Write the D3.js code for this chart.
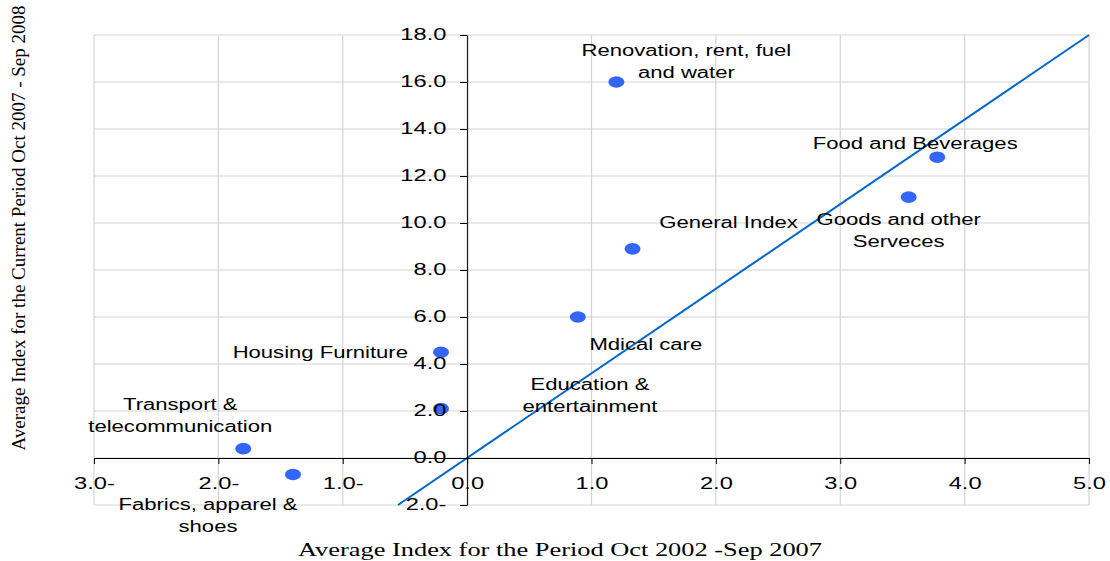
<!DOCTYPE html>
<html><head><meta charset="utf-8">
<script src="https://cdn.jsdelivr.net/npm/d3@7"></script>
<style>body{margin:0;background:#fff;} svg{display:block;}</style>
</head><body>
<svg id="c" width="1110" height="561"></svg>
<script>
// ---- data ----
const categories = ["Renovation, rent, fuel|and water","Food and Beverages","Goods and other|Serveces","General Index","Mdical care","Housing Furniture","Education &|entertainment","Transport &|telecommunication","Fabrics, apparel &|shoes"];
const xValues = [1.2, 3.78, 3.55, 1.33, 0.89, -0.21, -0.21, -1.80, -1.40];
const yValues = [16.0, 12.8, 11.1, 8.9, 6.0, 4.5, 2.1, 0.4, -0.7];
const lineX = [-0.556, 5];
const lineY = [-2, 18];
const xTicks = [-3,-2,-1,0,1,2,3,4,5];
const yTicks = [-2,0,2,4,6,8,10,12,14,16,18];
const xTitle = "Average Index for the Period Oct 2002 -Sep 2007";
const yTitle = "Average Index for the Current Period Oct 2007 - Sep 2008";

// ---- layout (label offsets in px, not data) ----
const labelLayout = [
  {dx:70, dy:-32, a:"middle"},
  {dx:-22, dy:-14, a:"middle"},
  {dx:-10, dy:22, a:"middle"},
  {dx:96, dy:-26, a:"middle"},
  {dx:68, dy:27, a:"middle"},
  {dx:-33, dy:0, a:"end"},
  {dx:149, dy:-24, a:"middle"},
  {dx:-63, dy:-44, a:"middle"},
  {dx:-85, dy:30, a:"middle"}
];

const svg = d3.select("#c");
const x = d3.scaleLinear().domain([-3,5]).range([94,1089]);
const y = d3.scaleLinear().domain([-2,18]).range([505,35]);
const fmt = d => (d < 0 ? Math.abs(d).toFixed(1) + "-" : d.toFixed(1));
const tickFont = "'Liberation Sans', Arial, sans-serif";

// gridlines
const grid = svg.append("g");
grid.selectAll("line.v").data(xTicks).join("line")
  .attr("x1", d=>x(d)).attr("x2", d=>x(d)).attr("y1", y(18)).attr("y2", y(-2))
  .attr("stroke","#d3d3d3").attr("stroke-width",1.2);
grid.selectAll("line.h").data(yTicks).join("line")
  .attr("y1", d=>y(d)).attr("y2", d=>y(d)).attr("x1", x(-3)).attr("x2", x(5))
  .attr("stroke","#d3d3d3").attr("stroke-width",1.2);

// diagonal line
const lineData = lineX.map((d,i)=>[d, lineY[i]]);
svg.append("path").datum(lineData)
  .attr("d", d3.line().x(d=>x(d[0])).y(d=>y(d[1])))
  .attr("stroke","#0066cc").attr("stroke-width",2).attr("fill","none");

// points
const pts = categories.map((c,i)=>({name:c, x:xValues[i], y:yValues[i], l:labelLayout[i]}));
svg.append("g").selectAll("ellipse").data(pts).join("ellipse")
  .attr("cx", d=>x(d.x)).attr("cy", d=>y(d.y)).attr("rx",8).attr("ry",5.8)
  .attr("fill","#3366ff");

// axes
const yAxis = svg.append("g").attr("transform", `translate(${x(0)},0)`)
  .call(d3.axisLeft(y).tickValues(yTicks).tickSize(7).tickSizeOuter(0).tickFormat(fmt));
yAxis.select(".domain").attr("stroke","#000");
yAxis.selectAll(".tick line").attr("stroke","#000");
yAxis.selectAll(".tick text").attr("x",-14).attr("dy","0.3em").attr("transform","scale(1.48,1)")
  .attr("font-family",tickFont).attr("font-size",16).attr("fill","#000");

const xAxis = svg.append("g").attr("transform", `translate(0,${y(0)})`)
  .call(d3.axisBottom(x).tickValues(xTicks).tickSize(6).tickSizeOuter(0).tickFormat(fmt));
xAxis.select(".domain").attr("stroke","#000");
xAxis.selectAll(".tick line").attr("stroke","#000");
xAxis.selectAll(".tick text").attr("y",20).attr("transform","scale(1.48,1)")
  .attr("font-family",tickFont).attr("font-size",16).attr("fill","#000");

// labels
const lab = svg.append("g").selectAll("g").data(pts).join("g")
  .attr("transform", d=>`translate(${x(d.x)+d.l.dx},${y(d.y)+d.l.dy})`);
lab.each(function(d){
  const lines = d.name.split("|");
  d3.select(this).selectAll("text").data(lines).join("text")
    .attr("transform", (t,i)=>`translate(0,${i*22}) scale(1.38,1)`)
    .attr("text-anchor", d.l.a).attr("dy","0.35em")
    .attr("font-family",tickFont).attr("font-size",16).attr("fill","#000")
    .text(t=>t);
});

// axis titles
const serif = "'Liberation Serif', 'Times New Roman', serif";
svg.append("text").attr("x",560).attr("y",556).attr("text-anchor","middle")
  .attr("font-family",serif).attr("font-size",18).attr("fill","#000")
  .attr("textLength",524).attr("lengthAdjust","spacingAndGlyphs").text(xTitle);
svg.append("text").attr("transform","translate(25,228) rotate(-90)").attr("text-anchor","middle")
  .attr("font-family",serif).attr("font-size",18).attr("fill","#000")
  .attr("textLength",445).attr("lengthAdjust","spacingAndGlyphs").text(yTitle);
</script>
</body></html>
